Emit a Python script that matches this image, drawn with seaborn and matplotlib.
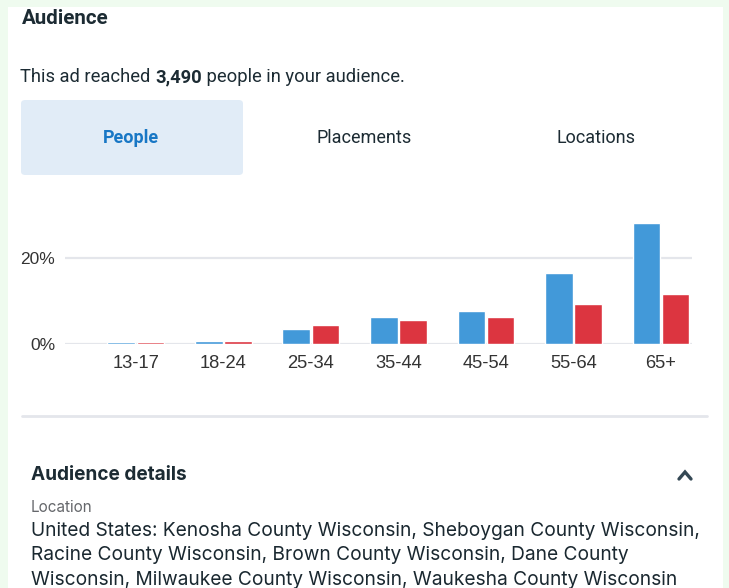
import matplotlib
matplotlib.use("Agg")
import matplotlib.pyplot as plt
from matplotlib.patches import FancyBboxPatch, Rectangle
from matplotlib.ticker import FuncFormatter
import seaborn as sns
import pandas as pd

# Data
age_groups = ['13-17', '18-24', '25-34', '35-44', '45-54', '55-64', '65+']
share_blue = [0.5, 0.8, 3.4, 6.2, 7.6, 16.4, 28.1]
share_red = [0.5, 0.8, 4.3, 5.5, 6.2, 9.3, 11.6]
y_ticks = [0, 20]
tabs = ['People', 'Placements', 'Locations']
location_lines = [
    'United States: Kenosha County Wisconsin, Sheboygan County Wisconsin,',
    'Racine County Wisconsin, Brown County Wisconsin, Dane County',
    'Wisconsin, Milwaukee County Wisconsin, Waukesha County Wisconsin',
]

df = pd.DataFrame({
    'Age': age_groups * 2,
    'Share': share_blue + share_red,
    'Group': ['Men'] * len(age_groups) + ['Women'] * len(age_groups),
})

W, H = 729, 588
DARK = '#1c2b33'
GRAY = '#65676b'
BLUE = '#4299d9'
RED = '#dc3540'

sns.set_style("white")
plt.rcParams['font.family'] = ['Roboto', 'DejaVu Sans']

fig = plt.figure(figsize=(W / 100, H / 100), dpi=100)
fig.patch.set_facecolor('#effbef')


def fx(x):
    return x / W


def fy(y):
    return 1 - y / H


# white card (behind everything)
fig.patches.append(Rectangle((fx(8), 0), fx(723 - 8), fy(7), transform=fig.transFigure,
                             facecolor='white', edgecolor='none', zorder=-5))

# header texts
fig.text(fx(22), fy(18), 'Audience', fontsize=14.8, fontweight='bold', color=DARK, va='center')

renderer = fig.canvas.get_renderer()
x = fx(20)
for part, weight in [('This ad reached ', 'normal'), ('3,490', 'bold'), (' people in your audience.', 'normal')]:
    t = fig.text(x, fy(77), part, fontsize=13.2, fontweight=weight, color=DARK, va='center')
    bb = t.get_window_extent(renderer)
    x += bb.width / W

# tabs
fig.patches.append(FancyBboxPatch((fx(21), fy(175)), fx(222), fy(100) - fy(175),
                                  boxstyle='round,pad=0,rounding_size=0.006',
                                  transform=fig.transFigure, facecolor='#e1ecf7',
                                  edgecolor='none', zorder=-4))
tab_x = [131, 364, 596]
for name, cx in zip(tabs, tab_x):
    active = name == 'People'
    fig.text(fx(cx), fy(138), name, fontsize=13, ha='center', va='center',
             fontweight='bold' if active else 'normal',
             color='#1877c5' if active else DARK)

# bar chart
ax = fig.add_axes([fx(65), fy(344), fx(692 - 65), (344 - 219) / H])
ax.set_axisbelow(True)
sns.barplot(data=df, x='Age', y='Share', hue='Group', palette=[BLUE, RED], saturation=1,
            width=0.67, gap=0.06, legend=False, ax=ax, zorder=3)
ax.set_facecolor('none')
ax.set_xlim(-0.81, 6.354)
ax.set_ylim(0, 29)
ax.set_yticks(y_ticks)
ax.yaxis.set_major_formatter(FuncFormatter(lambda v, _: '{:.0f}%'.format(v)))
for v in y_ticks:
    ax.axhline(v, color='#e4e6eb', linewidth=1.6, zorder=0)
ax.set_xlabel('')
ax.set_ylabel('')
for s in ax.spines.values():
    s.set_visible(False)
ax.tick_params(axis='y', length=0, pad=7, labelsize=12.5, labelcolor='#333333')
ax.tick_params(axis='x', length=0, pad=8, labelsize=13.2, labelcolor='#333333')
for lab in ax.get_xticklabels() + ax.get_yticklabels():
    lab.set_fontfamily(['Liberation Sans', 'DejaVu Sans'])

# separator
fig.add_artist(plt.Line2D([fx(22), fx(707)], [fy(416), fy(416)], color='#e4e6eb', linewidth=2))

# audience details
fig.text(fx(31), fy(475), 'Audience details', fontsize=13.7, fontweight='bold', color=DARK, va='center',
         family=['Inter', 'DejaVu Sans'])
fig.add_artist(plt.Line2D([fx(679), fx(685), fx(691)], [fy(479), fy(472), fy(479)],
                          color='#344854', linewidth=2.4, solid_capstyle='round',
                          solid_joinstyle='miter'))
fig.text(fx(31), fy(507), 'Location', fontsize=11, color=GRAY, va='center', family=['Inter', 'DejaVu Sans'])
for i, line in enumerate(location_lines):
    fig.text(fx(31), fy(531 + 24.3 * i), line, fontsize=13.8, color='#1a2830', va='center',
             family=['Inter', 'DejaVu Sans'])

fig.savefig('out.png', dpi=100, facecolor=fig.get_facecolor())
